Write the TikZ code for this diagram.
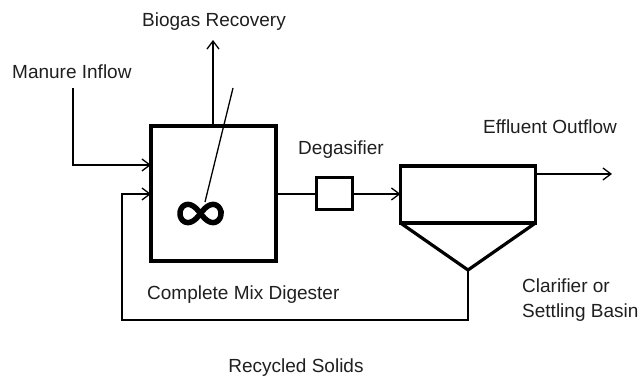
\documentclass[tikz,border=0pt]{standalone}
\usepackage{fontspec}
\setmainfont{Liberation Sans}
\usetikzlibrary{arrows.meta}
\begin{document}
\begin{tikzpicture}[x=1pt,y=-1pt,
  thickbox/.style={draw,line width=3.2pt,inner sep=0pt,outer sep=0pt},
  flow/.style={line width=1.3pt},
  arr/.style={flow,-{Straight Barb[length=8pt,width=12pt,line width=1.3pt]}},
  lbl/.style={font=\fontsize{19}{25}\selectfont,inner sep=0pt,text=black!88}]
\useasboundingbox (0,0) rectangle (641,379);
% units
\node[thickbox,minimum width=125pt,minimum height=135pt] (dig) at (213.5,193.5) {};
\node[thickbox,line width=3pt,minimum width=36pt,minimum height=32pt] (deg) at (334,194) {};
\node[thickbox,minimum width=135pt,minimum height=57pt] (clar) at (468,194.5) {};
\coordinate (apex) at (468,270);
\draw[line width=3.2pt,line join=miter] (clar.south west) -- (apex) -- (clar.south east);
% stirrer
\coordinate (s1) at (233,88);
\coordinate (s2) at (205,202);
\draw[flow] (s1) -- (s2);
\draw[line width=5.5pt,shift={(200.5,213.5)}] plot[domain=0:360,samples=120,smooth cycle]
  ({20.5*cos(\x)/(1+sin(\x)^2)},{20.5*1.25*sin(\x)*cos(\x)/(1+sin(\x)^2)});
% labels
\node[lbl] (biolbl) at (214,22) {Biogas Recovery};
\node[lbl,anchor=west] (manlbl) at (12,72) {Manure Inflow};
\node[lbl] (deglbl) at (341,150) {Degasifier};
\node[lbl] (efflbl) at (550,127) {Effluent Outflow};
\node[lbl,anchor=west] (diglbl) at (147,295) {Complete Mix Digester};
\node[lbl,anchor=west,align=left] (clarlbl) at (522,300.5) {Clarifier or\\Settling Basin};
\node[lbl] (reclbl) at (296,368) {Recycled Solids};
% connectors
\coordinate (bioend) at (213,40);
\draw[arr] (dig.north -| bioend) -- (bioend);
\coordinate (m1) at (73,88);
\coordinate (m2) at (73,165);
\draw[arr] (m1) -- (m2) -- (dig.west |- m2);
\draw[flow] (dig.east |- deg) -- (deg.west);
\draw[arr] (deg.east) -- (clar.west |- deg);
\coordinate (effend) at (612,174);
\draw[arr] (clar.east |- effend) -- (effend);
\coordinate (r1) at (468,320);
\coordinate (r2) at (122,320);
\coordinate (r3) at (122,194);
\draw[arr] (apex) -- (r1) -- (r2) -- (r3) -- (dig.west |- r3);
\end{tikzpicture}
\end{document}
